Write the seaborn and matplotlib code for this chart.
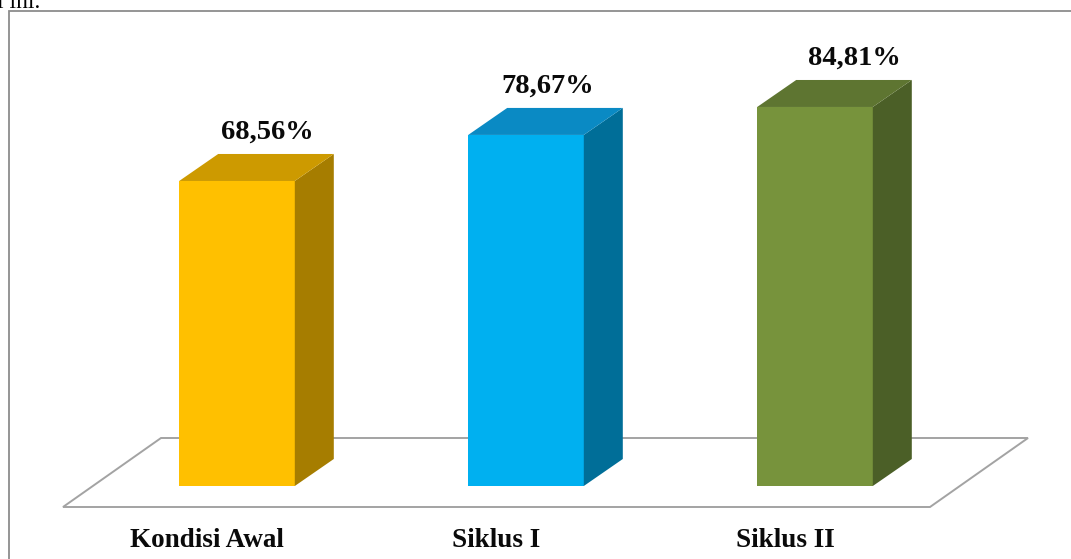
import numpy as np
import pandas as pd
import matplotlib
matplotlib.use("Agg")
import matplotlib.pyplot as plt
from matplotlib.patches import Polygon, Rectangle
from matplotlib import transforms
import seaborn as sns

# Data
categories = ["Kondisi Awal", "Siklus I", "Siklus II"]
values = [68.56, 78.67, 84.81]
value_labels = ["68,56%", "78,67%", "84,81%"]

front_colors = ["#FFC000", "#00B0F0", "#77933C"]
top_colors = ["#CD9A00", "#0A8AC4", "#5E7531"]
side_colors = ["#A67D00", "#006E98", "#4B5F27"]

W, H, DPI = 1071, 559, 100
DEPTH = (39, 27)          # oblique depth of each box, in pixels (right, up)
LABEL_DX = [30, 22, 39]   # horizontal shift of value labels, pixels

sns.set_theme(style="white")
plt.rcParams["font.family"] = ["Liberation Serif", "DejaVu Serif"]

fig = plt.figure(figsize=(W / DPI, H / DPI), dpi=DPI)
fig.patch.set_facecolor("white")

def px_x(p):
    return p / W

def px_y(p):  # pixel measured from top -> figure fraction
    return 1 - p / H

# Outer chart frame
fig.patches.append(Rectangle((px_x(9), px_y(H + 20)), px_x(W + 20), (H + 9) / H,
                             transform=fig.transFigure, fill=False,
                             edgecolor="#8C8C8C", linewidth=1.3, zorder=0))

# Fragment of surrounding document text
fig.text(px_x(-3), px_y(8), "l ini.", fontsize=17, color="black",
         ha="left", va="baseline")

# Floor of the 3-D plot area
floor = [(63, 507), (161, 438), (1028, 438), (930, 507)]
fig.patches.append(Polygon([(px_x(x), px_y(y)) for x, y in floor], closed=True,
                           transform=fig.transFigure, facecolor="white",
                           edgecolor="#A3A3A3", linewidth=1.4, zorder=1))

# Axes: bottom edge sits on the floor line of the bars
base_px, scale = 493.2, 4.554
ax = fig.add_axes([0, px_y(486), 1, 486 / H])
ax.set_facecolor("none")
ax.set_zorder(2)

df = pd.DataFrame({"category": categories, "value": values})
sns.barplot(data=df, x="category", y="value", hue="category",
            palette=front_colors, saturation=1, width=0.4,
            edgecolor="none", linewidth=0, legend=False, ax=ax)

xc0, step = 237, 289
ax.set_xlim(-xc0 / step, (W - xc0) / step)
ax.set_ylim((base_px - 486) / scale, base_px / scale)
ax.set_axis_off()

fig.canvas.draw()
to_disp = ax.transData.transform
to_data = ax.transData.inverted().transform

bars = sorted(ax.patches, key=lambda p: p.get_x())
for i, bar in enumerate(bars):
    x0 = bar.get_x()
    x1 = x0 + bar.get_width()
    y_top = bar.get_y() + bar.get_height()
    y_bot = ax.get_ylim()[0]
    (L, T) = to_disp((x0, y_top))
    (R, B) = to_disp((x1, y_bot))
    dx, dy = DEPTH
    side = [(R, B), (R + dx, B + dy), (R + dx, T + dy), (R, T)]
    top = [(L, T), (L + dx, T + dy), (R + dx, T + dy), (R, T)]
    ax.add_patch(Polygon(to_data(side), closed=True, facecolor=side_colors[i],
                         edgecolor="none", clip_on=False, zorder=3))
    ax.add_patch(Polygon(to_data(top), closed=True, facecolor=top_colors[i],
                         edgecolor="none", clip_on=False, zorder=3))
    # value label above the box
    lx, ly = to_data(((L + R) / 2 + LABEL_DX[i], T + dy + 15))
    ax.text(lx, ly, value_labels[i], ha="center", va="baseline",
            fontsize=20.5, fontweight="bold", color="#0A0A0A", clip_on=False,
            zorder=5)

# Category labels under the floor
lab_tf = transforms.blended_transform_factory(ax.transData, fig.transFigure)
lab_tf = transforms.offset_copy(lab_tf, fig=fig, x=-30, y=0, units="dots")
for i, cat in enumerate(categories):
    ax.text(i, px_y(547), cat, transform=lab_tf, ha="center", va="baseline",
            fontsize=19.5, fontweight="bold", color="#0A0A0A", clip_on=False)

fig.savefig("out.png", dpi=DPI, facecolor="white")
